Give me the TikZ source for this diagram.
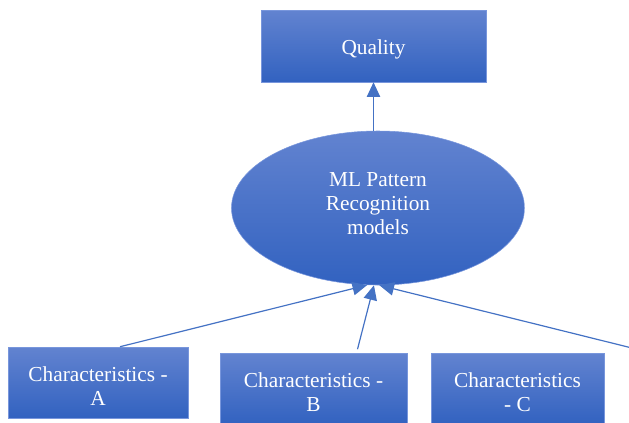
\documentclass[tikz,border=0pt]{standalone}
\usepackage{fontspec}
\setmainfont{Liberation Serif}
\usepackage{tikz}
\usetikzlibrary{calc}
\usetikzlibrary{shapes,arrows.meta,positioning,shapes.geometric}

\definecolor{boxtop}{RGB}{98,131,208}
\definecolor{boxbot}{RGB}{50,98,192}
\definecolor{boxline}{RGB}{120,150,220}
\definecolor{linkblue}{RGB}{68,114,196}

\begin{document}
\begin{tikzpicture}[x=0.75pt, y=-0.75pt, auto]
    % Define block styles
    \tikzstyle{outcome} = [rectangle, minimum width=225*0.75pt, minimum height=72*0.75pt, text height=16pt, text depth=3.5pt, text centered, draw=boxline, top color=boxtop, bottom color=boxbot, text=white, font=\fontsize{16}{18}\selectfont]
    \tikzstyle{feature} = [rectangle, minimum height=71*0.75pt, text height=34pt, text depth=0pt, align=center, draw=boxline, top color=boxtop, bottom color=boxbot, text=white, font=\fontsize{16}{18}\selectfont]
    \tikzstyle{model} = [ellipse, minimum width=293*0.75pt, minimum height=154*0.75pt, align=center, draw=boxline, top color=boxtop, bottom color=boxbot, text=white, font=\fontsize{16}{18}\selectfont]
    \tikzstyle{arrow} = [draw=linkblue, line width=0.9pt, -{Triangle[width=10pt,length=11pt]}]

    \useasboundingbox (0,0) rectangle (629,422);

    % Nodes
    \node (quality) [outcome] at (373.5,46) {Quality};
    \node (mlmodel) [model] at (378,208) {ML Pattern\\Recognition\\models\\[-12pt]};
    \node (chara) [feature, minimum width=180*0.75pt] at (98,382.5) {Characteristics -\\A};
    \node (charb) [feature, minimum width=187*0.75pt] at (313.5,389) {Characteristics -\\B};
    \node (charc) [feature, minimum width=173*0.75pt] at (517.5,389) {Characteristics\\- C};
    \coordinate (charext) at (640,350);

    % Arrows between nodes
    \draw [arrow] (quality.south |- mlmodel.north) -- (quality.south);
    \draw [arrow] ($(chara.north)+(22,0)$) -- (mlmodel.262);
    \draw [arrow] ($(charb.north)+(44,-4)$) -- (mlmodel.267);
    \draw [arrow] (charext) -- (mlmodel.271);
\end{tikzpicture}
\end{document}
